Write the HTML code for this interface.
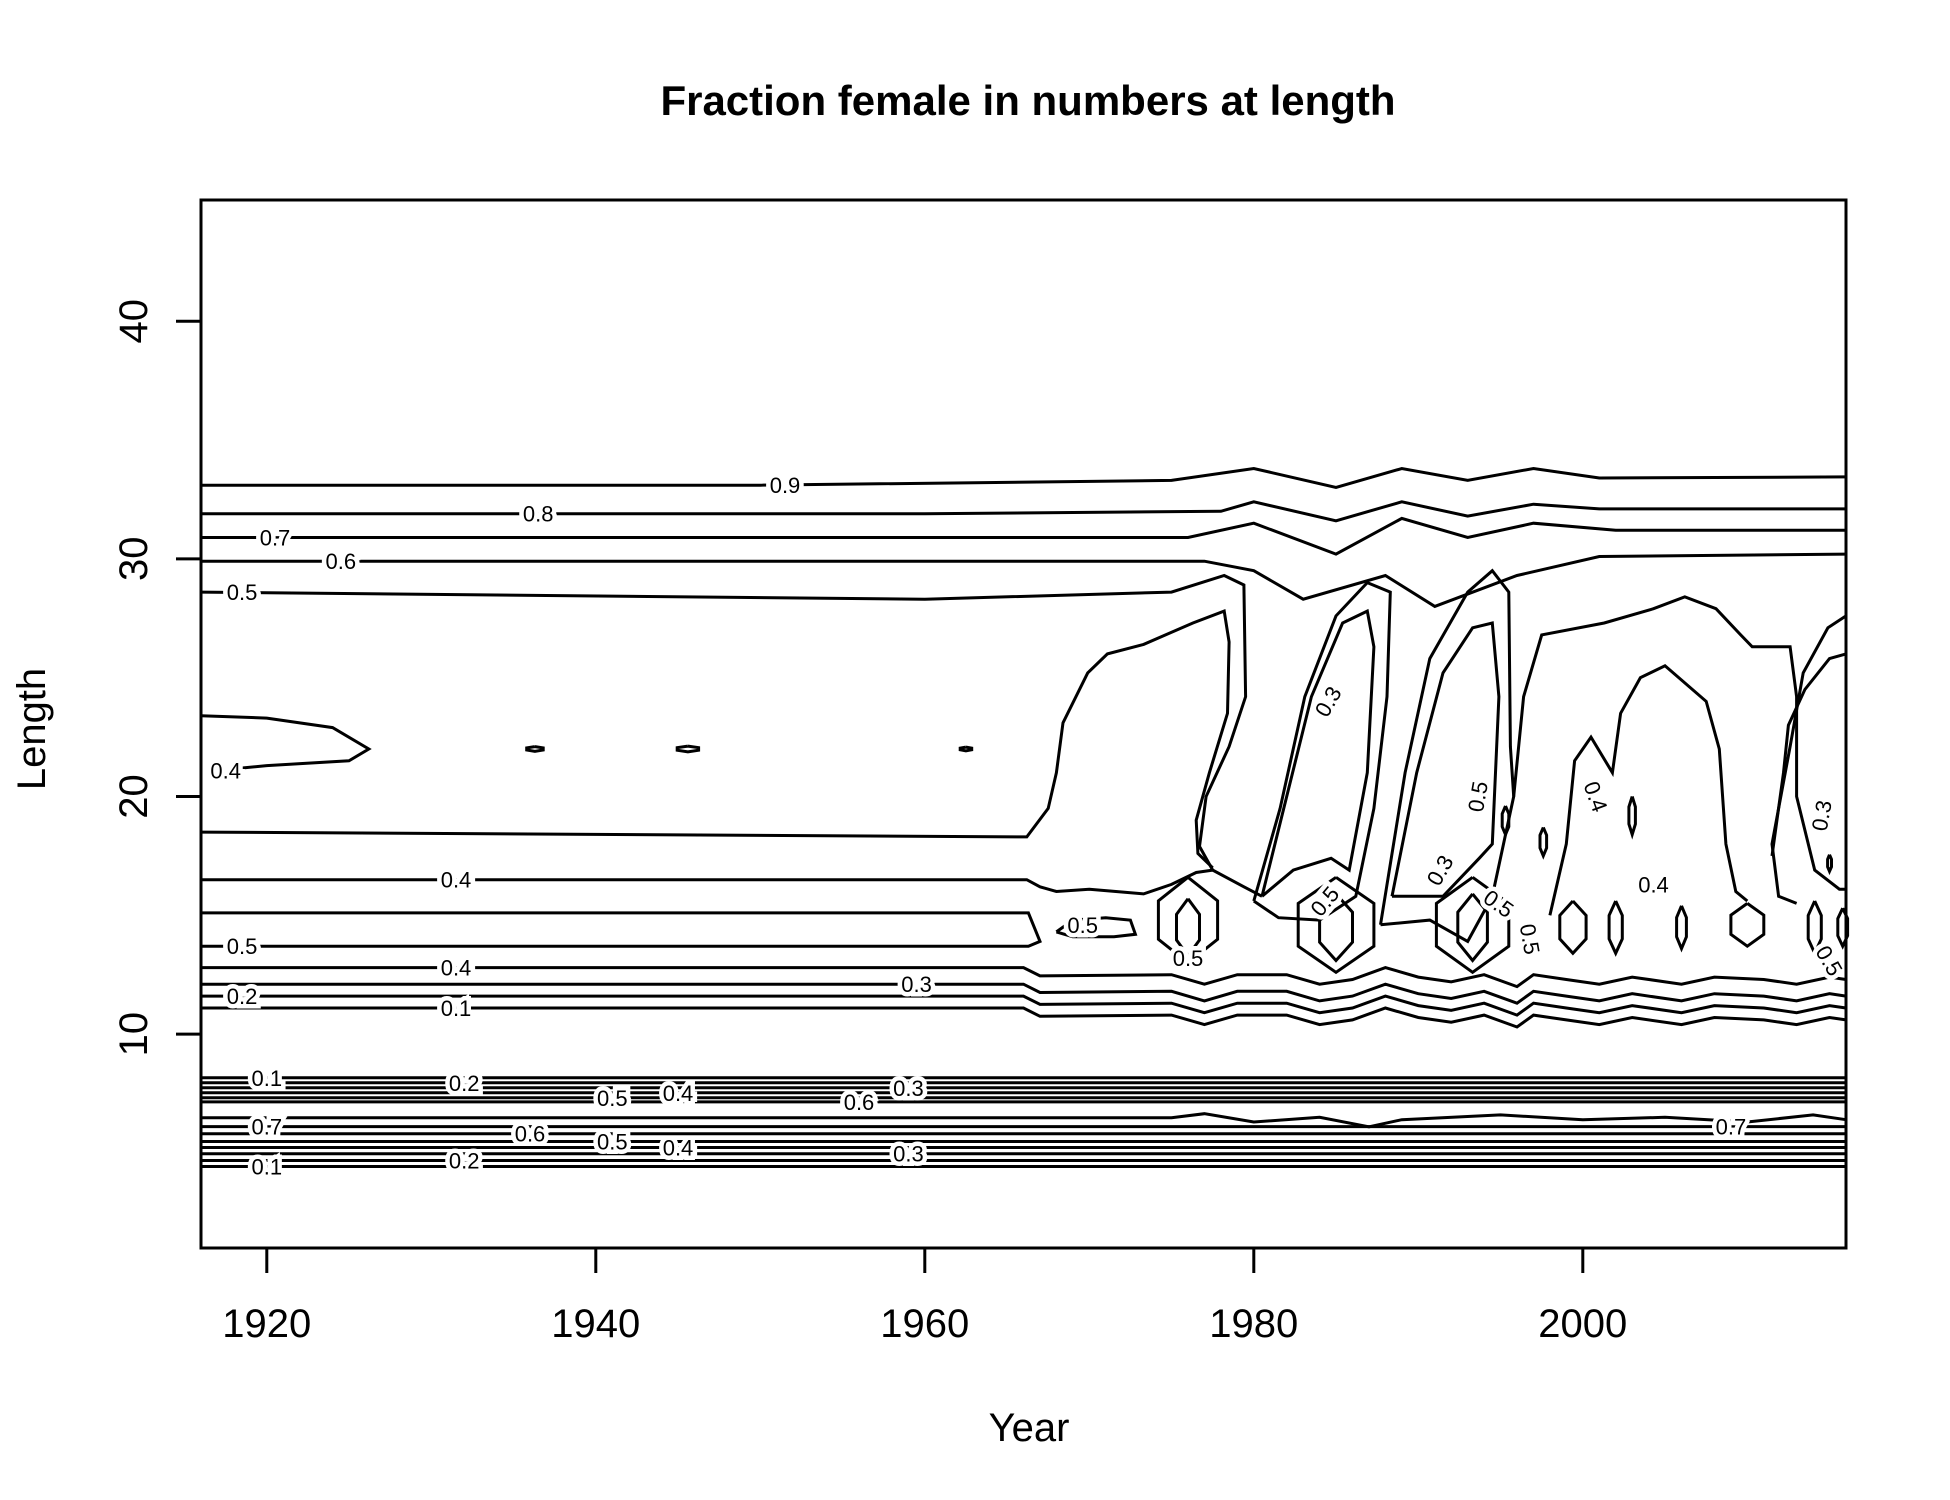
<!DOCTYPE html>
<html><head><meta charset="utf-8"><title>Fraction female in numbers at length</title>
<style>html,body{margin:0;padding:0;background:#fff}svg{display:block}</style></head>
<body>
<svg id="chart" xmlns="http://www.w3.org/2000/svg" width="1950" height="1500" viewBox="0 0 1950 1500" font-family="Liberation Sans, Arial, sans-serif">
<rect x="0" y="0" width="1950" height="1500" fill="#fff"/>
<text x="1028" y="115" text-anchor="middle" font-size="42" font-weight="bold">Fraction female in numbers at length</text>
<g id="contours" fill="none" stroke="#000" stroke-width="3" stroke-linejoin="miter"></g>
<g id="labels"></g>
<rect x="201" y="200" width="1645" height="1048" fill="none" stroke="#000" stroke-width="3"/>
<g id="axes"></g>
<text x="1029" y="1441" text-anchor="middle" font-size="40">Year</text>
<text transform="translate(45,729) rotate(-90)" text-anchor="middle" font-size="40">Length</text>
</svg>
<script>
const xTicks = [1920, 1940, 1960, 1980, 2000];
const yTicks = [10, 20, 30, 40];
const xDomain = [1916, 2016];
const yDomain = [1.0, 45.1];

// open contour lines: [year, length]
const lineTop09 = [[1916,33.1],[1950,33.1],[1975,33.3],[1980,33.8],[1985,33.0],[1989,33.8],[1993,33.3],[1997,33.8],[2001,33.4],[2016,33.45]];
const lineTop08 = [[1916,31.9],[1960,31.9],[1978,32.0],[1980,32.4],[1985,31.6],[1989,32.4],[1993,31.8],[1997,32.3],[2001,32.1],[2016,32.1]];
const lineTop07 = [[1916,30.9],[1976,30.9],[1980,31.5],[1985,30.2],[1989,31.7],[1993,30.9],[1997,31.5],[2002,31.2],[2016,31.2]];
const lineTop06 = [[1916,29.9],[1977,29.9],[1980,29.5],[1983,28.3],[1988,29.3],[1991,28.0],[1996,29.3],[2001,30.1],[2016,30.2]];
const lineTop05 = [[1916,28.6],[1960,28.3],[1975,28.6],[1978.2,29.3],[1979.4,28.9],[1979.5,24.2],[1978.5,22.1],[1977.1,20.0],[1976.7,17.9],[1977.5,16.9],[1979.4,16.2],[1980.5,15.8]];
const lineMid04 = [[1916,18.5],[1966.2,18.3],[1967.5,19.5],[1968,21],[1968.4,23.1],[1969.9,25.2],[1971.1,26.0],[1973.3,26.4],[1976.3,27.3],[1978.2,27.8],[1978.5,26.5],[1978.4,23.5],[1977.3,21],[1976.5,19],[1976.6,17.6],[1977.5,17.0]];
const lineLow04 = [[1916,16.5],[1966.2,16.5],[1967,16.2],[1968,16.0],[1970,16.1],[1973.3,15.9],[1975,16.3],[1976.5,16.8],[1977.5,16.9]];
const lineTongue05 = [[1916,15.1],[1966.3,15.1],[1967,13.9],[1966.3,13.7],[1916,13.7]];
const lineLeft04 = [[1916,23.4],[1920,23.3],[1924,22.9],[1926.2,22.0],[1925,21.5],[1920,21.3],[1918.5,21.2]];
const lineRight1 = [[1995.8,20.0],[1996.4,24.2],[1997.5,26.8],[2001.3,27.3],[2004.3,27.9],[2006.2,28.4],[2008.1,27.9],[2009.6,26.8],[2010.3,26.3],[2012.6,26.3],[2013,24.2],[2013,20],[2014.1,16.9],[2015.6,16.1],[2016,16.1]];
const lineRight2 = [[2016,27.6],[2014.9,27.1],[2013.4,25.2],[2012.6,22.1],[2011.5,18],[2011.9,15.8],[2013,15.5]];
const lineRight3 = [[1998,15],[1999,18],[1999.5,21.5],[2000.5,22.5],[2001.8,21],[2002.3,23.5],[2003.5,25],[2005,25.5],[2007.5,24],[2008.3,22],[2008.7,18],[2009.3,16],[2010,15.6]];
const lineRight4 = [[2011.5,17.5],[2012.2,21],[2012.5,23],[2013.5,24.5],[2015,25.8],[2016,26]];
const lineBand08 = [[1916,6.48],[1975,6.48],[1977,6.65],[1980,6.3],[1984,6.5],[1987,6.1],[1989,6.4],[1995,6.6],[2000,6.4],[2005,6.5],[2010,6.3],[2014,6.6],[2016,6.4]];

// closed loops
const loopL1outer = [[1980.0,15.6],[1981.6,19.5],[1983.1,24.2],[1985.0,27.6],[1986.9,29.0],[1988.3,28.6],[1988.1,24.2],[1987.3,19.5],[1986.2,15.8],[1984,14.8],[1981.5,14.9],[1980.0,15.6]];
const loopL1inner = [[1980.5,15.8],[1982,20.0],[1983.5,24.2],[1985.4,27.3],[1986.9,27.8],[1987.3,26.3],[1986.9,21.0],[1985.8,16.9],[1984.7,17.4],[1982.4,16.9],[1980.5,15.8]];
const loopL2outer = [[1987.7,14.6],[1989.2,21.0],[1990.7,25.8],[1993,28.6],[1994.5,29.5],[1995.5,28.6],[1995.6,22.1],[1995.8,20],[1994.5,15.8],[1993,13.9],[1990.7,14.8],[1987.7,14.6]];
const loopL2inner = [[1988.4,15.8],[1989.9,21],[1991.5,25.2],[1993.3,27.1],[1994.5,27.3],[1994.9,24.2],[1994.5,18],[1993.7,17.4],[1991.5,15.8],[1988.4,15.8]];
const loopSmall05 = [[1968,14.3],[1969,14.8],[1971,14.9],[1972.5,14.8],[1972.8,14.2],[1971.5,14.1],[1969,14.1],[1968,14.3]];

// lobes: [centerYear, centerLength, halfWidthYears, halfHeight]
const lobeCenters = [[1976.0,14.5,0.7,1.2],[1985.0,14.5,1.0,1.4],[1993.3,14.5,0.9,1.4],[1999.4,14.5,0.8,1.1],[2002,14.5,0.4,1.1],[2006,14.5,0.3,0.9],[2010,14.6,1.0,0.9],[2014.1,14.5,0.4,1.1],[2015.8,14.5,0.3,0.8],
  [1976,14.8,1.8,1.8],[1985,14.6,2.3,2.0],[1993.3,14.6,2.2,2.0],
  [1936.3,22.0,0.5,0.1],[1945.6,22.0,0.65,0.12],[1962.5,22.0,0.35,0.08],
  [1995.3,19.0,0.2,0.6],[1997.6,18.1,0.2,0.6],[2003,19.2,0.2,0.8],[2015,17.2,0.12,0.35]];

// wiggly lower lines
const wiggleYears = [1916,1966,1967,1975,1977,1979,1982,1984,1986,1988,1990,1992,1994,1996,1997,1999,2001,2003,2006,2008,2011,2013,2015,2016];
const wiggle04 = [12.8,12.8,12.45,12.5,12.1,12.5,12.5,12.1,12.3,12.8,12.4,12.2,12.5,12.0,12.5,12.3,12.1,12.4,12.1,12.4,12.3,12.1,12.4,12.3];
const wiggle03 = [12.1,12.1,11.75,11.8,11.4,11.8,11.8,11.4,11.6,12.1,11.7,11.5,11.8,11.3,11.8,11.6,11.4,11.7,11.4,11.7,11.6,11.4,11.7,11.6];
const wiggle02 = [11.6,11.6,11.25,11.3,10.9,11.3,11.3,10.9,11.1,11.6,11.2,11.0,11.3,10.8,11.3,11.1,10.9,11.2,10.9,11.2,11.1,10.9,11.2,11.1];
const wiggle01 = [11.1,11.1,10.75,10.8,10.4,10.8,10.8,10.4,10.6,11.1,10.7,10.5,10.8,10.3,10.8,10.6,10.4,10.7,10.4,10.7,10.6,10.4,10.7,10.6];

// flat band lines (lengths)
const bandLevels = [8.16,7.95,7.74,7.53,7.32,7.15,6.11,5.81,5.48,5.23,4.97,4.68,4.43];

// labels: text, year, length, angle
const labelText = ["0.9","0.8","0.7","0.6","0.5","0.4","0.4","0.5","0.4","0.3","0.2","0.1","0.5","0.5","0.3","0.5","0.3","0.5","0.5","0.5","0.4","0.4","0.3","0.5",
  "0.1","0.2","0.5","0.4","0.6","0.3","0.7","0.6","0.5","0.4","0.3","0.2","0.1","0.7"];
const labelYear = [1951.5,1936.5,1920.5,1924.5,1918.5,1917.5,1931.5,1918.5,1931.5,1959.5,1918.5,1931.5,1969.6,1976,1984.5,1984.3,1991.3,1994.9,1993.6,1996.8,2000.8,2004.3,2014.5,2015.0,
  1920,1932,1941,1945,1956,1959,1920,1936,1941,1945,1959,1932,1920,2009];
const labelLen = [33.1,31.9,30.9,29.9,28.6,21.1,16.5,13.7,12.8,12.1,11.6,11.1,14.6,13.2,24.0,15.6,16.9,15.5,20.0,14.0,20.0,16.3,19.2,13.1,
  8.16,7.95,7.32,7.53,7.15,7.74,6.11,5.81,5.48,5.23,4.97,4.68,4.43,6.11];
const labelAngle = [0,0,0,0,0,0,0,0,0,0,0,0,0,0,-60,-50,-60,35,-80,80,70,0,-80,60,
  0,0,0,0,0,0,0,0,0,0,0,0,0,0];

const NS = "http://www.w3.org/2000/svg";
const X = v => 201 + (v - xDomain[0]) / (xDomain[1] - xDomain[0]) * 1645;
const Y = v => 1248 - (v - yDomain[0]) / (yDomain[1] - yDomain[0]) * 1048;
const ptsStr = arr => arr.map(p => X(p[0]).toFixed(1) + "," + Y(p[1]).toFixed(1)).join(" ");

const gC = document.getElementById("contours");
function addLine(arr, name) {
  const el = document.createElementNS(NS, "polyline");
  el.setAttribute("points", ptsStr(arr));
  
  
  gC.appendChild(el);
}
addLine(lineTop09, "contour-0-9");
addLine(lineTop08, "contour-0-8");
addLine(lineTop07, "contour-0-7");
addLine(lineTop06, "contour-0-6");
addLine(lineTop05, "contour-0-5-upper");
addLine(lineMid04, "contour-0-4-mid");
addLine(lineLow04, "contour-0-4-low");
addLine(lineTongue05, "contour-0-5-tongue");
addLine(lineLeft04, "contour-0-4-left");
addLine(lineRight1, "contour-right-1");
addLine(lineRight2, "contour-right-2");
addLine(lineRight3, "contour-right-3");
addLine(lineRight4, "contour-right-4");
addLine(lineBand08, "contour-band-0-8");
addLine(loopL1outer, "contour-loop-1980s-outer");
addLine(loopL1inner, "contour-loop-1980s-inner");
addLine(loopL2outer, "contour-loop-1990s-outer");
addLine(loopL2inner, "contour-loop-1990s-inner");
addLine(loopSmall05, "contour-small-0-5");

lobeCenters.forEach(c => {
  const [cx, cy, hw, hh] = c;
  const poly = [[cx, cy + hh], [cx + hw, cy + hh * 0.45], [cx + hw, cy - hh * 0.45], [cx, cy - hh], [cx - hw, cy - hh * 0.45], [cx - hw, cy + hh * 0.45], [cx, cy + hh]];
  addLine(poly, "contour-lobe");
});

[wiggle04, wiggle03, wiggle02, wiggle01].forEach((w, i) => {
  addLine(wiggleYears.map((yr, j) => [yr, w[j]]), "contour-wiggle-" + i);
});
bandLevels.forEach(l => {
  addLine([[xDomain[0], l], [xDomain[1], l]], "contour-band-line");
});

const gL = document.getElementById("labels");
labelText.forEach((t, i) => {
  const el = document.createElementNS(NS, "text");
  const x = X(labelYear[i]), y = Y(labelLen[i]);
  el.setAttribute("transform", `translate(${x.toFixed(1)},${y.toFixed(1)}) rotate(${labelAngle[i]})`);
  el.setAttribute("text-anchor", "middle");
  el.setAttribute("dy", "8");
  el.setAttribute("font-size", "22");
  el.setAttribute("fill", "#000");
  el.setAttribute("stroke", "#fff");
  el.setAttribute("stroke-width", "9");
  el.setAttribute("paint-order", "stroke");
  
  
  el.textContent = t;
  gL.appendChild(el);
});

const gA = document.getElementById("axes");
xTicks.forEach(t => {
  const ln = document.createElementNS(NS, "line");
  ln.setAttribute("x1", X(t)); ln.setAttribute("x2", X(t));
  ln.setAttribute("y1", 1248); ln.setAttribute("y2", 1273);
  ln.setAttribute("stroke", "#000"); ln.setAttribute("stroke-width", "3");
  
  
  gA.appendChild(ln);
  const tx = document.createElementNS(NS, "text");
  tx.setAttribute("x", X(t)); tx.setAttribute("y", 1337);
  tx.setAttribute("text-anchor", "middle"); tx.setAttribute("font-size", "40");
  
  
  tx.textContent = t;
  gA.appendChild(tx);
});
yTicks.forEach(t => {
  const ln = document.createElementNS(NS, "line");
  ln.setAttribute("x1", 176); ln.setAttribute("x2", 201);
  ln.setAttribute("y1", Y(t)); ln.setAttribute("y2", Y(t));
  ln.setAttribute("stroke", "#000"); ln.setAttribute("stroke-width", "3");
  
  
  gA.appendChild(ln);
  const tx = document.createElementNS(NS, "text");
  tx.setAttribute("transform", `translate(147,${Y(t).toFixed(1)}) rotate(-90)`);
  tx.setAttribute("text-anchor", "middle"); tx.setAttribute("font-size", "40");
  
  
  tx.textContent = t;
  gA.appendChild(tx);
});
</script>
</body></html>
